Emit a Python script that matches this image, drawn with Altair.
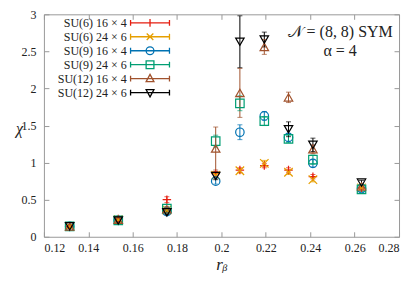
import altair as alt
import pandas as pd

rb = [0.1316, 0.1535, 0.1754, 0.1974, 0.2083, 0.2193, 0.2302, 0.2412, 0.2631]
series = ["SU(6) 16 × 4", "SU(6) 24 × 6", "SU(9) 16 × 4", "SU(9) 24 × 6", "SU(12) 16 × 4", "SU(12) 24 × 6"]

chi_su6_16 = [0.14, 0.24, 0.50, 0.85, 0.90, 0.96, 0.90, 0.81, 0.66]
err_su6_16 = [0.01, 0.02, 0.04, 0.03, 0.03, 0.03, 0.03, 0.03, 0.02]
chi_su6_24 = [0.14, 0.23, 0.36, 0.83, 0.89, 0.99, 0.87, 0.77, 0.66]
err_su6_24 = [0.01, 0.02, 0.03, 0.03, 0.03, 0.04, 0.03, 0.03, 0.03]
chi_su9_16 = [0.14, 0.22, 0.34, 0.75, 1.41, 1.63, 1.34, 0.99, 0.65]
err_su9_16 = [0.01, 0.02, 0.03, 0.04, 0.10, 0.06, 0.05, 0.05, 0.03]
chi_su9_24 = [0.14, 0.22, 0.38, 1.29, 1.80, 1.56, 1.32, 1.04, 0.64]
err_su9_24 = [0.01, 0.02, 0.03, 0.08, 0.10, 0.06, 0.05, 0.06, 0.03]
chi_su12_16 = [0.14, 0.23, 0.37, 1.19, 1.94, 2.56, 1.88, 1.18, 0.68]
err_su12_16 = [0.01, 0.02, 0.03, 0.29, 0.33, 0.10, 0.07, 0.06, 0.03]
chi_su12_24 = [0.14, 0.22, 0.33, 0.82, 2.63, 2.66, 1.45, 1.24, 0.73]
err_su12_24 = [0.01, 0.02, 0.03, 0.05, 0.35, 0.10, 0.10, 0.09, 0.03]

x_ticks = [0.12, 0.14, 0.16, 0.18, 0.20, 0.22, 0.24, 0.26, 0.28]
y_ticks = [0, 0.5, 1, 1.5, 2, 2.5, 3]

colors = ["#e51e10", "#e69f00", "#0072b2", "#009e73", "#a0522d", "#000000"]

marker_paths = [
    "M-1,0H1M0,-1V1",
    "M-1,-1L1,1M-1,1L1,-1",
    "circle",
    "square",
    "triangle-up",
    "triangle-down",
]

# legend glyph (error-bar sample drawn to the right of the right-aligned label)
L0, L1 = 1.75, 7.75
C = (L0 + L1) / 2
m = 0.6
k = 0.45
line = f"M{L0},0H{L1}M{L0},-{k}V{k}M{L1},-{k}V{k}"
legend_paths = [
    line + f"M{C},-{m}V{m}",
    line + f"M{C-m*0.85},-{m*0.85}L{C+m*0.85},{m*0.85}M{C-m*0.85},{m*0.85}L{C+m*0.85},-{m*0.85}",
    line + f"M{C-m},0A{m},{m},0,1,1,{C+m},0A{m},{m},0,1,1,{C-m},0",
    line + f"M{C-m},-{m}H{C+m}V{m}H{C-m}Z",
    line + f"M{C},-{m*1.1}L{C+m},{m*0.75}L{C-m},{m*0.75}Z",
    line + f"M{C},{m*1.1}L{C+m},-{m*0.75}L{C-m},-{m*0.75}Z",
]

all_chi = [chi_su6_16, chi_su6_24, chi_su9_16, chi_su9_24, chi_su12_16, chi_su12_24]
all_err = [err_su6_16, err_su6_24, err_su9_16, err_su9_24, err_su12_16, err_su12_24]
rows = []
for s, ys, es in zip(series, all_chi, all_err):
    for xv, yv, ev in zip(rb, ys, es):
        rows.append({"series": s, "rb": xv, "chi": yv, "lo": yv - ev, "hi": yv + ev})
df = pd.DataFrame(rows)

FONT = "Liberation Serif"
TXT = "#222"
xs = alt.Scale(domain=[0.12, 0.28], nice=False, zero=False)
ys_ = alt.Scale(domain=[0, 3], nice=False)
cs = alt.Scale(domain=series, range=colors)

base = alt.Chart(df)

common = dict(tickSize=5, domain=False, grid=False, tickColor="#999", offset=-5,
              labelFont=FONT, labelFontSize=12, labelColor=TXT)
x_bottom = alt.X("rb:Q", scale=xs, axis=alt.Axis(
    orient="bottom", values=x_ticks, format="~g", labelPadding=6,
    title="rᵦ", titleFont=FONT, titleFontStyle="italic", titleFontSize=17, titleColor=TXT,
    titleFontWeight="normal", titlePadding=3, **common))
x_top = alt.X("rb:Q", scale=xs, axis=alt.Axis(
    orient="top", values=x_ticks, labels=False, title=None, **common))
y_left = alt.Y("chi:Q", scale=ys_, axis=alt.Axis(
    orient="left", values=y_ticks, format="~g", labelPadding=8,
    title="χ", titleAngle=0, titleFont=FONT, titleFontStyle="italic", titleColor=TXT,
    titleFontSize=16, titleFontWeight="normal", titleX=-30, titleY=114,
    titleAlign="center", titleBaseline="middle", **common))
y_right = alt.Y("lo:Q", scale=ys_, axis=alt.Axis(
    orient="right", values=y_ticks, labels=False, title=None, **common))

nox = lambda f: alt.X(f, scale=xs, axis=None)
noy = lambda f: alt.Y(f, scale=ys_, axis=None)

err = base.mark_rule(strokeWidth=1).encode(
    x=x_top, y=y_right, y2="hi:Q",
    color=alt.Color("series:N", scale=cs, legend=None))
cap_lo = base.mark_tick(orient="horizontal", size=5, thickness=1).encode(
    x=nox("rb:Q"), y=noy("lo:Q"), color=alt.Color("series:N", scale=cs, legend=None))
cap_hi = base.mark_tick(orient="horizontal", size=5, thickness=1).encode(
    x=nox("rb:Q"), y=noy("hi:Q"), color=alt.Color("series:N", scale=cs, legend=None))
pts = base.mark_point(filled=False, size=72, strokeWidth=1.2, opacity=1).encode(
    x=x_bottom, y=y_left,
    color=alt.Color("series:N", scale=cs, legend=None),
    shape=alt.Shape("series:N", scale=alt.Scale(domain=series, range=marker_paths), legend=None))

legend_opts = dict(
    orient="none", legendX=68, legendY=1, title=None, labelFont=FONT, labelFontSize=12,
    labelColor=TXT, labelAlign="right", labelOffset=0, symbolOffset=0, symbolSize=169,
    symbolStrokeWidth=1.3, rowPadding=-0.5, padding=0)
leg = base.transform_filter("false").mark_point(filled=False, size=169, strokeWidth=1.3, opacity=1).encode(
    color=alt.Color("series:N", scale=alt.Scale(domain=series, range=colors), legend=alt.Legend(**legend_opts)),
    shape=alt.Shape("series:N", scale=alt.Scale(domain=series, range=legend_paths), legend=alt.Legend(**legend_opts)))

ann = alt.Chart(pd.DataFrame({"t": ["𝒩 = (8, 8) SYM", "α = 4"], "yy": [18, 37]})).mark_text(
    font=FONT, fontSize=16, align="center", color=TXT).encode(
    text="t:N", x=alt.value(297), y=alt.Y("yy:Q", scale=None))

chart = alt.layer(err, cap_lo, cap_hi, pts, leg, ann).resolve_scale(
    color="independent", shape="independent").resolve_axis(x="independent", y="independent").properties(
    width=356, height=223, autosize=alt.AutoSizeParams(type="none"),
    padding={"left": 36, "top": 6, "right": 10, "bottom": 40}
).configure_view(stroke="#999", strokeWidth=1)

chart.save("out.html", embed_options={"renderer": "svg", "actions": False})
